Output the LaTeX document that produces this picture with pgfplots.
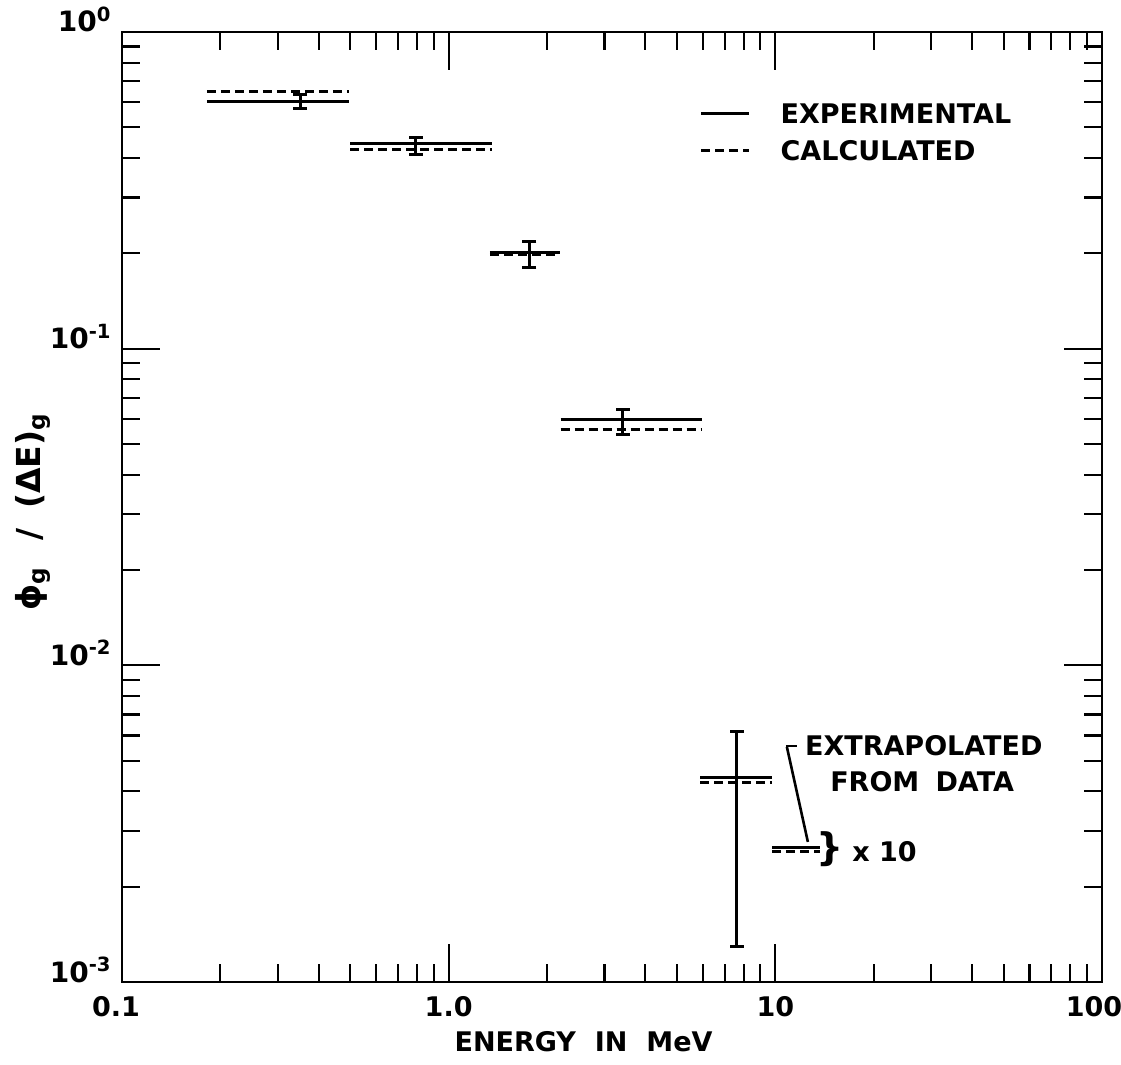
\documentclass[border=0pt]{standalone}
\usepackage{fontspec}
\setmainfont{DejaVu Sans}
\usepackage{pgfplots}
\pgfplotsset{compat=1.18}
\begin{document}
\begin{tikzpicture}
\begin{axis}[
  xmode=log, ymode=log,
  width=490pt, height=475pt, scale only axis,
  xmin=0.1, xmax=100, ymin=0.001, ymax=1,
  axis line style={line width=1.4pt},
  every tick/.style={black, line width=1.1pt},
  tick align=inside,
  major tick length=19pt, minor tick length=9pt,
  xtick={0.1,1,10,100},
  xticklabels={\hspace*{-6pt}0.1,1.0,10,\hspace*{-8pt}100},
  minor xtick={0.2,0.3,0.4,0.5,0.6,0.7,0.8,0.9,2,3,4,5,6,7,8,9,20,30,40,50,60,70,80,90},
  ytick={0.001,0.01,0.1,1},
  yticklabels={10\textsuperscript{-3},10\textsuperscript{-2},10\textsuperscript{-1},10\textsuperscript{0}},
  minor ytick={0.002,0.003,0.004,0.005,0.006,0.007,0.008,0.009,0.02,0.03,0.04,0.05,0.06,0.07,0.08,0.09,0.2,0.3,0.4,0.5,0.6,0.7,0.8,0.9},
  xticklabel style={font=\bfseries\fontsize{13.5}{15}\selectfont, anchor=north, inner sep=0pt, yshift=-7pt},
  yticklabel style={font=\bfseries\fontsize{14}{16}\selectfont, anchor=base east, inner sep=0pt, xshift=-5pt},
  xlabel={ENERGY\hspace{0.7em}IN\hspace{0.7em}MeV},
  xlabel style={font=\bfseries\fontsize{13.5}{16}\selectfont, at={(rel axis cs:0.471,0)}, anchor=center, yshift=-30pt},
  ylabel={ϕ\textsubscript{g}\hspace{0.8em}/\hspace{0.6em}(ΔE)\textsubscript{g}},
  ylabel style={font=\bfseries\fontsize{16.5}{18}\selectfont, at={(rel axis cs:-0.0908,0.495)}, anchor=center},
  clip=false,
  legend cell align=left,
  legend style={draw=none, fill=none, at={(rel axis cs:0.589,0.925)}, anchor=north west,
    inner sep=0pt, row sep=8.5pt, column sep=15pt,
    font=\bfseries\fontsize{13.5}{16}\selectfont,
    nodes={inner sep=0pt, text height=10pt, text depth=0pt}},
  legend image code/.code={\draw[#1] (0pt,0pt) -- (24pt,0pt);},
  exp/.style={black, line width=1.5pt},
  calc/.style={black, line width=1.5pt, dash pattern=on 4.5pt off 2.5pt},
  err/.style={black, line width=1.5pt, mark=-, mark size=3.5pt, mark options={solid, line width=1.5pt}},
]
\addlegendimage{exp}
\addlegendentry{EXPERIMENTAL}
\addlegendimage{calc}
\addlegendentry{CALCULATED}

% group 1
\addplot[exp, forget plot] coordinates {(0.182,0.602) (0.495,0.602)};
\addplot[calc, forget plot] coordinates {(0.182,0.648) (0.495,0.648)};
\addplot[err, forget plot] coordinates {(0.351,0.573) (0.351,0.634)};
% group 2
\addplot[exp, forget plot] coordinates {(0.499,0.445) (1.357,0.445)};
\addplot[calc, forget plot] coordinates {(0.499,0.426) (1.357,0.426)};
\addplot[err, forget plot] coordinates {(0.794,0.409) (0.794,0.464)};
% group 3
\addplot[exp, forget plot] coordinates {(1.338,0.201) (2.19,0.201)};
\addplot[calc, forget plot] coordinates {(1.338,0.199) (2.19,0.199)};
\addplot[err, forget plot] coordinates {(1.765,0.1807) (1.765,0.218)};
% group 4
\addplot[exp, forget plot] coordinates {(2.2,0.0596) (5.95,0.0596)};
\addplot[calc, forget plot] coordinates {(2.2,0.0554) (5.95,0.0554)};
\addplot[err, forget plot] coordinates {(3.41,0.0534) (3.41,0.0644)};
% group 5
\addplot[exp, forget plot] coordinates {(5.9,0.00443) (9.8,0.00443)};
\addplot[calc, forget plot] coordinates {(5.9,0.00426) (9.8,0.00426)};
\addplot[err, forget plot] coordinates {(7.61,0.00129) (7.61,0.0062)};
% group 6 (x10)
\addplot[exp, forget plot] coordinates {(9.8,0.002665) (13.7,0.002665)};
\addplot[calc, forget plot] coordinates {(9.8,0.00258) (13.7,0.00258)};

% annotations
\draw[line width=1.3pt] (axis cs:10.78,0.00557) -- (axis cs:11.64,0.00557);
\draw[line width=1.3pt] (axis cs:10.85,0.005525) -- (axis cs:12.58,0.002769);
\node[anchor=west, inner sep=0pt, font=\bfseries\fontsize{13.5}{16}\selectfont] at (axis cs:12.3,0.00557) {EXTRAPOLATED};
\node[anchor=west, inner sep=0pt, font=\bfseries\fontsize{13.5}{16}\selectfont] at (axis cs:14.69,0.004283) {FROM\hspace{0.6em}DATA};
\node[inner sep=0pt, font=\bfseries\fontsize{19}{20}\selectfont] at (axis cs:14.69,0.002623) {\}};
\node[anchor=west, inner sep=0pt, font=\bfseries\fontsize{13.5}{16}\selectfont] at (axis cs:17.16,0.002576) {x 10};

\coordinate (bl) at (rel axis cs:0,0);
\coordinate (tr) at (rel axis cs:1,1);
\end{axis}
\pgfresetboundingbox
\path[use as bounding box] ([shift={(-61pt,-41.5pt)}]bl) rectangle ([shift={(9.5pt,16pt)}]tr);
\end{tikzpicture}
\end{document}
